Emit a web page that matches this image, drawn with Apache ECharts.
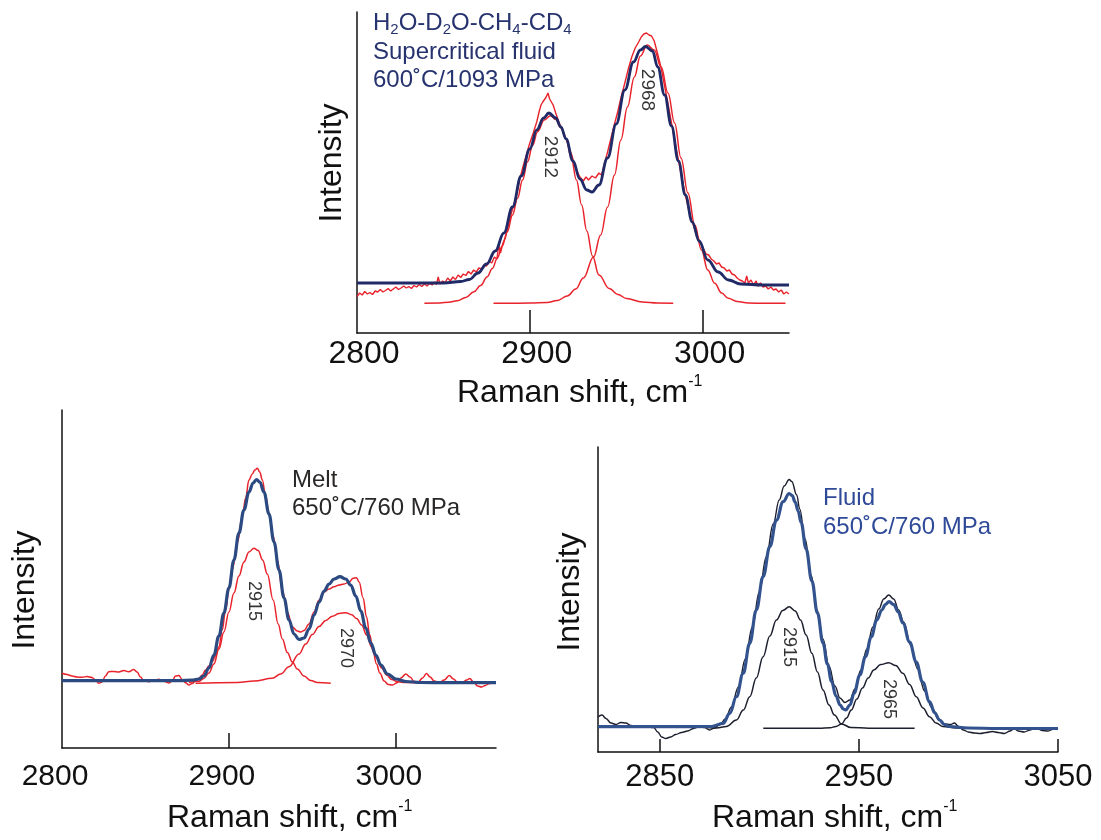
<!DOCTYPE html>
<html>
<head>
<meta charset="utf-8">
<script src="https://cdn.jsdelivr.net/npm/echarts@6/dist/echarts.min.js"></script>
<style>
  html, body { margin: 0; padding: 0; background: #ffffff; }
  #chart { width: 1101px; height: 840px; }
</style>
</head>
<body>
<div id="chart"></div>
<script>
// Raman spectra of the C-H stretching region, [Raman shift (cm-1), intensity (arb.)]

// --- H2O-D2O-CH4-CD4 supercritical fluid, 600 C / 1093 MPa ---
const superRaw = [
  [2800,36.5],[2801.5,40],[2803,38],[2804.5,41.5],[2806,39],[2807.5,40.5],[2809,38.5],[2810.5,42],[2812,41],[2813.5,43.5],
  [2815,41],[2816.5,42.5],[2818,44.5],[2819.5,42],[2821,44],[2822.5,46],[2824,43.5],[2825.5,45],[2827,47],[2828.5,45],
  [2830,46.5],[2831.5,44.5],[2833,47.5],[2834.5,46],[2836,48.5],[2837.5,46.5],[2839,49],[2840.5,47],[2842,49.5],[2843.5,48],
  [2845,51],[2846,48.5],[2847,56],[2848,49],[2849.5,52],[2851,50.5],[2852.5,55],[2854,52],[2855.5,56],[2857,53.5],
  [2858.5,58],[2860,55.5],[2861.5,59],[2863,57.5],[2864.5,61.5],[2866,59],[2867.5,63],[2869,61],[2870.5,65],[2872,64],
  [2873.5,68],[2875,67],[2876.5,72],[2878,70],[2879.5,76],[2881,74],[2882,88],[2883,80],[2884.5,90],[2886,96],
  [2888,111],[2890,124],[2892,135],[2894,152],[2896,166],[2898,178],[2900,190],[2902,200],[2904,211],[2905.5,222],
  [2906.5,228],[2907.5,231],[2908.5,229],[2909.5,236],[2910.5,240],[2911.5,234],[2912.5,235],[2913.5,228],[2915,220],[2917,210],
  [2919,203],[2921,194],[2923,184],[2924.5,177],[2925.5,170],[2927,163],[2929,156],[2931,152],[2932.5,156],[2934,153],
  [2936,157],[2938,155],[2940,160],[2941.5,158],[2943,168],[2945,181],[2947,195],[2949,209],[2951,222],[2953,237],
  [2955,250],[2957,264],[2959,276],[2961,285],[2963,291],[2964.5,296],[2966,299],[2967.5,300],[2969,298],[2970.5,297],
  [2972,292],[2974,279],[2976,265],[2978,247],[2980,229],[2982,210],[2984,191],[2986,173],[2988,155],[2990,138],
  [2992,123],[2994,111],[2996,101],[2998,93],[3000,86],[3002,79],[3003.5,78],[3005,74],[3006.5,72],[3008,69],
  [3009.5,70],[3011,66],[3012.5,65],[3014,62],[3015.5,63],[3017,59],[3018.5,58],[3020,55],[3021.5,53],[3023,52],
  [3024.5,50],[3025.5,57],[3026.5,50],[3028,53],[3029.5,48],[3031,52],[3032,47],[3033.5,50],[3035,46],[3036.5,47],
  [3038,44],[3039.5,46],[3041,43],[3042.5,44],[3044,41],[3045.5,43],[3047,39],[3048.5,41],[3050,39]
];
const superFit = [
  [2800,50],[2830,50],[2850,50],[2860,51.5],[2865,53.5],[2870,60],[2875,69],[2880,82],[2885,100],[2890,126],
  [2895,157],[2900,184],[2904,203],[2908,215],[2911,220],[2915,215],[2918,206],[2921,194],[2925,172],[2929,154],
  [2933,143],[2936,141],[2940,148],[2945,175],[2950,209],[2955,243],[2960,271],[2964,283],[2967,286.5],[2971,282],
  [2974,266],[2978,238],[2982,207],[2986,172],[2990,138],[2994,111],[2998,92],[3003,73],[3009,61],[3015,53],
  [3022,49],[3035,48],[3050,48]
];
const superBand2912 = [
  [2839,29.7],[2848,30],[2853,30.8],[2858,32.2],[2863,35.5],[2867.7,41.3],[2871.5,47.5],[2875.4,56.3],[2878.3,64.5],[2881.2,74.7],
  [2884,87],[2887,101.3],[2890,118],[2892.9,134.7],[2895.8,153],[2898.7,171.3],[2901.6,187.5],[2904.5,201.3],[2908.4,213],[2912,217.3],
  [2915,213.5],[2918,205],[2921,194],[2924,175],[2927,153],[2930,128],[2933,102],[2936.3,77],[2940,58],[2946,44.5],
  [2951,38.5],[2956,34.5],[2965,31],[2974,30],[2983,29.7]
];
const superBand2968 = [
  [2879,29.7],[2900,29.9],[2910,30.5],[2916,32.5],[2921.7,37],[2926.6,44],[2931,55],[2936.9,76],[2941,98],[2945,126],
  [2949,158],[2952.7,193],[2956.5,226],[2960.5,256],[2964,277],[2968,288],[2972,283],[2976,266],[2980,240],[2983.8,210],
  [2987.5,175],[2991.5,140],[2995.5,108],[2999.3,83],[3003,63],[3007,49.7],[3011,40],[3014.8,34.7],[3020,31.5],[3026.4,30],
  [3036,29.7],[3048,29.7]
];
const superPeaks = [2912, 2968];
const superTickLabels = [2800, 2900, 3000];
const superTickMarks = [2900, 3000];

// --- Melt, 650 C / 760 MPa ---
const meltRaw = [
  [2800,74.7],[2803,73.5],[2806,72],[2809,71],[2812,70.7],[2815,71.5],[2818,70.5],[2820,68],[2822,64.7],[2824,66],
  [2826,72],[2828,76.3],[2831,76.5],[2834,76],[2837,77.5],[2840,76.3],[2843,78.5],[2845,76],[2847,71],[2849,67.5],
  [2852,66.3],[2855,67.5],[2858,68.7],[2860,67.5],[2862,66.3],[2864,65],[2866,67],[2868,72],[2870,72.5],[2872,68.5],
  [2874,65.3],[2876,63],[2878,64.5],[2880,67],[2882,69.7],[2884,73],[2886,78],[2888,82],[2890,86.3],[2892,92],
  [2894,101.3],[2896,118],[2898,138],[2900,158],[2902,178],[2905,205],[2908,231.3],[2910,250],[2912,268],[2914,274],
  [2915.5,278],[2917,279.7],[2918.5,276],[2920,268],[2922,252],[2924,234.7],[2926.5,212],[2929,188],[2932,158],[2935,136],
  [2938,121],[2941,117],[2943,116],[2945,117.5],[2948,124],[2951,136],[2954,148],[2957,156],[2960,159],[2963,161.3],
  [2966,163],[2969,164],[2972,166],[2974.4,169.7],[2976.4,170.3],[2978,166],[2980.4,150],[2982.4,131.3],[2984.4,113],[2986.4,96],
  [2988.4,84],[2990.4,75],[2993,67],[2995.4,63.5],[2998,63],[3000.5,65],[3003,70],[3006,74],[3008.5,71],[3011,66.5],
  [3013.5,66],[3016,70],[3018.3,74.5],[3020.5,71],[3023,67],[3026,65.5],[3029,68],[3032,72.5],[3034.5,69],[3037,65.5],
  [3040,66],[3042.5,68],[3044.3,69.5],[3046.5,66],[3049,62],[3051.3,61],[3053.5,62.5],[3056,64.5],[3058,65],[3060,65.3]
];
const meltFit = [
  [2800,67.3],[2840,67.3],[2870,67.3],[2878,67.8],[2882,69],[2885,72],[2888,80],[2891,93],[2894,112],[2897,135],
  [2900,160],[2903,188],[2906,215],[2909,238],[2912,256],[2914.5,265],[2916.5,268.5],[2918.5,266],[2921,256],[2924,234],
  [2927,206],[2930,178],[2933,150],[2936,128],[2939,114],[2942,108.5],[2945,110],[2948,119],[2951,133],[2954,146],
  [2957,157],[2960,164],[2963,169],[2966.5,171.3],[2970,169],[2973,163],[2976,152],[2979,137],[2982,120],[2985,105],
  [2988,93],[2991,83],[2995,74],[3000,69],[3006,66.5],[3015,65.5],[3030,65.3],[3060,65.3]
];
const meltBand2915 = [
  [2876,65.5],[2882,66.8],[2885,69.5],[2888,75],[2891,84],[2894,99],[2897,116],[2900,136],[2903,155],[2906,172],
  [2909,186],[2912,196],[2915,199.7],[2917.5,197.5],[2920.2,188],[2923,174],[2926.5,148],[2929.5,124],[2932,109],[2935,95.5],
  [2938,86],[2941,79],[2945,72],[2949,67.5],[2953,65.5],[2961,64.7]
];
const meltBand2970 = [
  [2880,64.7],[2905,65.5],[2915,67],[2926,69.7],[2931,74],[2936,81.3],[2942,94],[2946,104],[2950,113.5],[2954,121.5],
  [2958,127.5],[2962,131.8],[2966,134.5],[2970,135.3],[2973.5,133.3],[2976.5,129.5],[2979.5,123],[2982.5,113],[2985.5,101],[2988.5,90],
  [2991.5,80],[2994.5,73],[2997.5,68.5],[3001,66.2],[3006,65.5],[3012,65.3],[3060,65.3]
];
const meltPeaks = [2915, 2970];
const meltTickLabels = [2800, 2900, 3000];
const meltTickMarks = [2900, 3000];

// --- Fluid, 650 C / 760 MPa ---
const fluidRaw = [
  [2819,35],[2821,37],[2823,33.5],[2825.5,29],[2828,27.5],[2830.5,29.5],[2833,29],[2835.5,26.5],[2839,25.5],[2843,25.5],
  [2847,24.5],[2849,20],[2851,15],[2853,13.5],[2855.5,15],[2858,17.5],[2861,19.5],[2864,21],[2867,23.5],[2870,25.5],
  [2872.5,24.5],[2875,22],[2877.5,24],[2880,27],[2883,33],[2886,45],[2889.5,65],[2893,93],[2896.5,125],[2900,160],
  [2903.5,195],[2907,228],[2910,252],[2912.5,266],[2915,272.5],[2916.3,270.5],[2918.8,257],[2920.3,243],[2923,213],[2926,177],
  [2929,142],[2932,113],[2935,86],[2938,66],[2940.5,54],[2943,49.5],[2945.5,52],[2948,63],[2951,82],[2954,103],
  [2957,125],[2960,143],[2962.5,153],[2965,157],[2967.5,153],[2970,142],[2972.5,130],[2976,107],[2979.5,83],[2983,61],
  [2986.5,45],[2990,33],[2993,28],[2996,27.5],[2998,29],[3000,25.5],[3002.5,22],[3005,20],[3008,19],[3011,18.5],
  [3014,19.5],[3017,20.5],[3020,19.5],[3023,18.5],[3026,21],[3028,23.5],[3030,21],[3033,20],[3036,22],[3039,24],
  [3042,21.5],[3045,21],[3048,23],[3050,24]
];
const fluidFit = [
  [2819,25.3],[2860,25.3],[2876,25.5],[2881.8,28.7],[2885.2,38.7],[2888.5,55.3],[2891.9,78.7],[2895.2,108.7],[2898.5,142],[2901.9,175.3],
  [2905.3,205.3],[2908.6,232],[2912,250.3],[2915,258.5],[2916.5,256.5],[2918,250],[2919.5,241],[2921,229.5],[2923.5,203],[2926.4,171],
  [2929.2,139],[2932,109],[2934.2,88],[2936.3,70.5],[2938.5,56],[2940.6,47],[2942.2,43],[2943.4,42],[2945.5,47],[2947.6,58.7],
  [2950.5,77],[2953.3,95.3],[2956.2,115],[2959,132],[2961.5,142],[2963.3,147.5],[2965.2,150.3],[2967.5,147.5],[2969.8,140],[2972.1,129],
  [2975.5,110],[2978.8,90],[2982,70],[2985.5,50.5],[2988,39.5],[2990.5,32],[2993,27.5],[2995.5,25.5],[3005,24],[3020,23.5],
  [3050,23.5]
];
const fluidBand2915 = [
  [2874,24.5],[2878.5,24],[2883.5,25.5],[2888.5,32],[2892,42],[2895.2,55.3],[2898.5,74],[2901.9,95.3],[2905.3,116],[2908.6,132],
  [2911.8,141.5],[2915,145.3],[2918,141],[2920.7,132],[2923.5,117],[2926.4,98.7],[2929.2,80],[2932,62],[2935,47],[2937.7,37],
  [2941.3,28],[2946,24.5],[2955,23.8],[2978,23.7]
];
const fluidBand2965 = [
  [2902,23.7],[2930,23.7],[2935.6,24.2],[2938.5,25.5],[2941.3,28],[2943.8,34],[2946.2,42],[2949,53],[2951.8,64],[2954.7,74],
  [2957.5,82],[2961,87.5],[2965,89.3],[2968.5,86.5],[2972.1,78.7],[2975.5,67.5],[2978.8,55.3],[2982.2,44],[2985.5,35.3],[2988.8,29],
  [2992.2,25.5],[2998.9,24],[3010,23.7]
];
const fluidPeaks = [2915, 2965];
const fluidTickLabels = [2850, 2950, 3050];
const fluidTickMarks = [2850, 2950, 3050];

// ---------------------------------------------------------------
const FONT = '"Liberation Sans", Arial, Helvetica, sans-serif';
const INK = '#111111';
const RED = '#e8232b';

const grids = [
  { left: 357, top: 12,  width: 432, height: 321 },   // supercritical fluid
  { left: 62,  top: 410, width: 434, height: 338 },   // melt
  { left: 598, top: 447, width: 460, height: 305 }    // fluid
];

function xAxisFor(i, min, max, marks, labels, tickLen, fontSize, margin, padding) {
  return {
    type: 'value', gridIndex: i, min: min, max: max,
    axisLine: { show: true, onZero: false, lineStyle: { color: INK, width: 1.5 } },
    axisTick: { show: true, inside: true, length: tickLen, customValues: marks,
                lineStyle: { color: INK, width: 1.5 } },
    axisLabel: { show: true, customValues: labels, fontSize: fontSize, color: INK,
                 fontFamily: FONT, margin: margin, padding: padding,
                 formatter: (v) => String(v) },
    splitLine: { show: false }
  };
}
function yAxisFor(i, max) {
  return {
    type: 'value', gridIndex: i, min: 0, max: max,
    axisLine: { show: true, onZero: false, lineStyle: { color: INK, width: 1.5 } },
    axisTick: { show: false }, axisLabel: { show: false }, splitLine: { show: false }
  };
}
function curve(data, i, color, width, smooth, z) {
  return {
    type: 'line', data: data, xAxisIndex: i, yAxisIndex: i,
    showSymbol: false, symbol: 'none', smooth: smooth, smoothMonotone: 'x',
    lineStyle: { color: color, width: width }, z: z, silent: true, animation: false
  };
}
function peakTags(peaks, heights, i, size) {
  return {
    type: 'scatter', xAxisIndex: i, yAxisIndex: i, symbolSize: 1,
    itemStyle: { color: 'rgba(0,0,0,0)' }, z: 20, silent: true, animation: false,
    data: peaks.map((p, k) => [p, heights[k]]),
    label: { show: true, position: 'inside', rotate: -90, fontSize: size,
             fontFamily: FONT, color: '#000000', formatter: (d) => String(d.value[0]) }
  };
}
function axisTitle(x, y) {
  return {
    type: 'text', x: x, y: y,
    style: {
      text: '{a|Raman shift, cm}{b|-1}', align: 'left', verticalAlign: 'middle',
      rich: {
        a: { fontSize: 32, lineHeight: 38, fontFamily: FONT, fill: INK },
        b: { fontSize: 16, lineHeight: 30, verticalAlign: 'top', fontFamily: FONT, fill: INK }
      }
    }
  };
}
function intensityTitle(x, y) {
  return {
    type: 'text', x: x, y: y, rotation: Math.PI / 2,
    style: { text: 'Intensity', align: 'center', verticalAlign: 'middle',
             fontSize: 32, fontFamily: FONT, fill: INK }
  };
}
function note(x, y, text, color) {
  return {
    type: 'text', x: x, y: y,
    style: { text: text, align: 'left', verticalAlign: 'middle',
             fontSize: 24, fontFamily: FONT, fill: color }
  };
}

const NAVY = '#27336f';
const option = {
  backgroundColor: '#ffffff',
  animation: false,
  grid: grids,
  xAxis: [
    xAxisFor(0, 2800, 3050, superTickMarks, superTickLabels, 23, 32, 5, [0, 0, 0, 14]),
    xAxisFor(1, 2800, 3060, meltTickMarks, meltTickLabels, 15, 30, 14, [0, 14, 0, 0]),
    xAxisFor(2, 2819, 3050, fluidTickMarks, fluidTickLabels, 13, 31, 10, 0)
  ],
  yAxis: [yAxisFor(0, 321), yAxisFor(1, 338), yAxisFor(2, 305)],
  series: [
    curve(superRaw, 0, RED, 1.4, false, 2),
    curve(superBand2912, 0, RED, 1.5, 0.4, 3),
    curve(superBand2968, 0, RED, 1.5, 0.4, 3),
    curve(superFit, 0, '#1f2a66', 2.8, 0.4, 4),
    peakTags(superPeaks, [176, 243], 0, 19),

    curve(meltRaw, 1, RED, 1.5, 0.4, 2),
    curve(meltBand2915, 1, RED, 1.5, 0.4, 3),
    curve(meltBand2970, 1, RED, 1.5, 0.4, 3),
    curve(meltFit, 1, '#2c4a82', 3.2, 0.4, 4),
    peakTags(meltPeaks, [147, 100], 1, 18),

    curve(fluidBand2915, 2, '#1c1f2e', 1.5, 0.4, 3),
    curve(fluidBand2965, 2, '#1c1f2e', 1.5, 0.4, 3),
    curve(fluidRaw, 2, '#1c1f2e', 1.4, 0.4, 4),
    curve(fluidFit, 2, '#33538f', 3.2, 0.4, 5),
    peakTags(fluidPeaks, [105, 53], 2, 18)
  ],
  graphic: [
    {
      type: 'text', x: 373, y: 23,
      style: {
        text: '{n|H}{s|2}{n|O-D}{s|2}{n|O-CH}{s|4}{n|-CD}{s|4}', align: 'left', verticalAlign: 'middle',
        rich: {
          n: { fontSize: 24, lineHeight: 28, fontFamily: FONT, fill: NAVY },
          s: { fontSize: 15, lineHeight: 17, verticalAlign: 'bottom', fontFamily: FONT, fill: NAVY }
        }
      }
    },
    note(373, 52, 'Supercritical fluid', NAVY),
    note(373, 80, '600˚C/1093 MPa', NAVY),
    note(292, 480, 'Melt', '#2a2727'),
    note(292, 508, '650˚C/760 MPa', '#2a2727'),
    note(823, 498, 'Fluid', '#2f4a98'),
    note(823, 527, '650˚C/760 MPa', '#2f4a98'),
    axisTitle(457, 393),
    axisTitle(167, 818),
    axisTitle(712, 818),
    intensityTitle(332, 163),
    intensityTitle(25, 590),
    intensityTitle(570, 592)
  ]
};

const chart = echarts.init(document.getElementById('chart'), null, { renderer: 'canvas' });
chart.setOption(option);
</script>
</body>
</html>
